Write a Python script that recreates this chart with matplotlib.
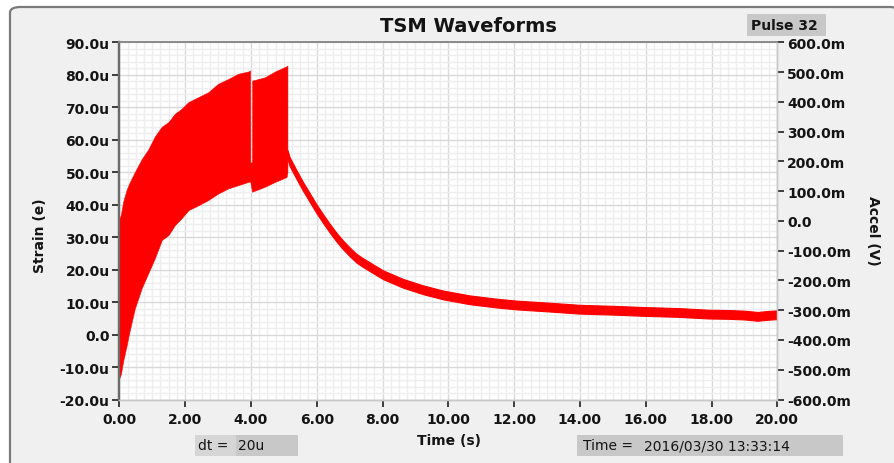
import numpy as np
import matplotlib
matplotlib.use("Agg")
import matplotlib.pyplot as plt
from matplotlib.patches import FancyBboxPatch, Rectangle
from matplotlib.ticker import FixedLocator, FixedFormatter, MultipleLocator

# ---------------- data (strain in micro-units, time in s) ----------------
# oscillating (dense) part: upper / lower envelopes
osc_t = [0.00, 0.05, 0.12, 0.22, 0.30, 0.47, 0.68, 0.88, 1.08, 1.29, 1.49, 1.69, 1.89,
         2.10, 2.40, 2.70, 3.00, 3.31, 3.61, 3.92, 3.975, 3.98, 4.035, 4.04, 4.42, 4.73,
         5.08, 5.11]
osc_upper = [35.5, 37.0, 41.0, 44.5, 46.5, 50.0, 54.0, 57.0, 61.0, 64.0, 65.4, 68.0, 69.5,
             71.6, 73.1, 74.6, 77.2, 78.7, 80.3, 81.0, 81.3, 53.0, 53.0, 78.2, 79.2, 81.0,
             82.6, 82.8]
osc_lower = [-13.5, -12.0, -8.0, -3.5, 0.5, 8.0, 14.3, 18.9, 23.5, 29.1, 30.6, 33.7, 35.8,
             38.3, 39.8, 41.4, 43.4, 45.0, 46.0, 47.0, 47.2, 47.2, 44.0, 44.0, 45.5, 47.0,
             48.5, 50.0]

# decaying part: centre line of the noisy trace
dec_t = [5.11, 5.18, 5.40, 5.59, 5.80, 5.99, 6.20, 6.40, 6.60, 6.80, 7.00, 7.21, 7.40,
         7.61, 8.02, 8.62, 9.23, 9.84, 10.65, 11.46, 12.07, 13.00, 14.00, 15.00, 16.00,
         17.00, 17.90, 18.50, 19.00, 19.40, 19.70, 20.00]
dec_center = [55.5, 53.2, 49.0, 45.5, 42.0, 38.8, 35.6, 32.7, 30.0, 27.6, 25.5, 23.5, 22.2,
              20.9, 18.4, 15.8, 13.8, 12.2, 10.7, 9.7, 9.1, 8.5, 7.8, 7.5, 7.1,
              6.8, 6.3, 6.2, 6.0, 5.6, 5.9, 6.1]
dec_noise_pp = 2.7   # peak-to-peak noise of the trace (micro-units)

x_ticks = [0, 2, 4, 6, 8, 10, 12, 14, 16, 18, 20]
x_tick_labels = ["0.00", "2.00", "4.00", "6.00", "8.00", "10.00", "12.00", "14.00",
                 "16.00", "18.00", "20.00"]
y_ticks = [-20, -10, 0, 10, 20, 30, 40, 50, 60, 70, 80, 90]
y_tick_labels = ["-20.0u", "-10.0u", "0.0", "10.0u", "20.0u", "30.0u", "40.0u", "50.0u",
                 "60.0u", "70.0u", "80.0u", "90.0u"]
y2_ticks = [-0.6, -0.5, -0.4, -0.3, -0.2, -0.1, 0.0, 0.1, 0.2, 0.3, 0.4, 0.5, 0.6]
y2_tick_labels = ["-600.0m", "-500.0m", "-400.0m", "-300.0m", "-200.0m", "-100.0m", "0.0",
                  "100.0m", "200.0m", "300.0m", "400.0m", "500.0m", "600.0m"]

title = "TSM Waveforms"
pulse_text = "Pulse 32"
dt_label, dt_value = "dt =", "20u"
time_label, time_value = "Time =", "2016/03/30 13:33:14"

# ---------------- figure ----------------
W, H = 894, 464
fig = plt.figure(figsize=(W / 100, H / 100), dpi=100, facecolor="white")

def fx(px):
    return px / W

def fy(py):
    return 1 - py / H

# panel frame
frame = FancyBboxPatch((fx(10), fy(470)), fx(900) - fx(10), fy(8) - fy(470),
                       boxstyle="round,pad=0,rounding_size=0.012",
                       transform=fig.transFigure, facecolor="#f0f0f0",
                       edgecolor="#7a7a7a", linewidth=1.6, zorder=-10)
fig.patches.append(frame)

L, R, T, B = 119.3, 777.3, 43.3, 400.5
ax = fig.add_axes([fx(L), fy(B), fx(R) - fx(L), fy(T) - fy(B)])
ax.set_facecolor("white")
ax.set_xlim(0, 20)
ax.set_ylim(-20, 90)

# grid
ax.xaxis.set_minor_locator(MultipleLocator(0.25))
ax.yaxis.set_minor_locator(MultipleLocator(2))
ax.grid(which="minor", color="#eeeeee", linewidth=1.0, zorder=0)
ax.grid(which="major", color="#d9d9d9", linewidth=1.0, zorder=0)
ax.set_axisbelow(True)

# data
ax.fill_between(osc_t, osc_lower, osc_upper, color="#ff0000", linewidth=0.4,
                edgecolor="#ff0000", zorder=3)
dc = np.array(dec_center)
ax.fill_between(dec_t, dc - dec_noise_pp / 2, dc + dec_noise_pp / 2, color="#ff0000",
                linewidth=0.8, edgecolor="#ff0000", zorder=3)

ax.xaxis.set_major_locator(FixedLocator(x_ticks))
ax.xaxis.set_major_formatter(FixedFormatter(x_tick_labels))
ax.yaxis.set_major_locator(FixedLocator(y_ticks))
ax.yaxis.set_major_formatter(FixedFormatter(y_tick_labels))
for lab in ax.get_xticklabels() + ax.get_yticklabels():
    lab.set_fontsize(10)
    lab.set_fontweight("bold")
    lab.set_color("#141414")
ax.tick_params(which="major", direction="out", length=5, width=1.2, color="#202020", pad=2)
ax.tick_params(which="minor", length=0)
ax.tick_params(axis="x", pad=4)

ax2 = ax.twinx()
ax2.set_ylim(-0.6, 0.6)
ax2.yaxis.set_major_locator(FixedLocator(y2_ticks))
ax2.yaxis.set_major_formatter(FixedFormatter(y2_tick_labels))
for lab in ax2.get_yticklabels():
    lab.set_fontsize(10)
    lab.set_fontweight("bold")
    lab.set_color("#141414")
ax2.tick_params(direction="out", length=5, width=1.2, color="#202020", pad=2)
ax2.yaxis.set_minor_locator(FixedLocator([]))

for a in (ax, ax2):
    a.spines["left"].set_color("#6a6a6a")
    a.spines["left"].set_linewidth(1.6)
    a.spines["top"].set_color("#8a8a8a")
    a.spines["top"].set_linewidth(1.2)
    a.spines["right"].set_color("#c8c8c8")
    a.spines["right"].set_linewidth(1.0)
    a.spines["bottom"].set_color("#c8c8c8")
    a.spines["bottom"].set_linewidth(1.0)

# texts
fig.text(fx(468), fy(27), title, ha="center", va="center", fontsize=14,
         fontweight="bold", color="#141414")
fig.text(fx(40), fy(236), "Strain (e)", ha="center", va="center", rotation=90,
         fontsize=10, fontweight="bold", color="#141414")
fig.text(fx(873), fy(231), "Accel (V)", ha="center", va="center", rotation=270,
         fontsize=10, fontweight="bold", color="#141414")
fig.text(fx(449), fy(441), "Time (s)", ha="center", va="center",
         fontsize=10, fontweight="bold", color="#141414")

def box(x0, y0, x1, y1, color):
    fig.patches.append(Rectangle((fx(x0), fy(y1)), fx(x1) - fx(x0), fy(y0) - fy(y1),
                                 transform=fig.transFigure, facecolor=color,
                                 edgecolor="none", zorder=-5))

box(747, 15, 826, 37, "#c8c8c8")
fig.text(fx(751), fy(26), pulse_text, ha="left", va="center", fontsize=10,
         fontweight="bold", color="#141414")

box(195, 436, 236, 457, "#d6d6d6")
box(236, 436, 298, 457, "#c8c8c8")
fig.text(fx(198), fy(446.5), dt_label, ha="left", va="center", fontsize=10,
         color="#141414")
fig.text(fx(238), fy(446.5), dt_value, ha="left", va="center", fontsize=10,
         color="#141414")

box(577, 436, 843, 457, "#c8c8c8")
fig.text(fx(583), fy(446.5), time_label, ha="left", va="center", fontsize=10,
         color="#141414")
fig.text(fx(644), fy(446.5), time_value, ha="left", va="center", fontsize=10,
         color="#141414")

fig.savefig("out.png", dpi=100, facecolor=fig.get_facecolor())
